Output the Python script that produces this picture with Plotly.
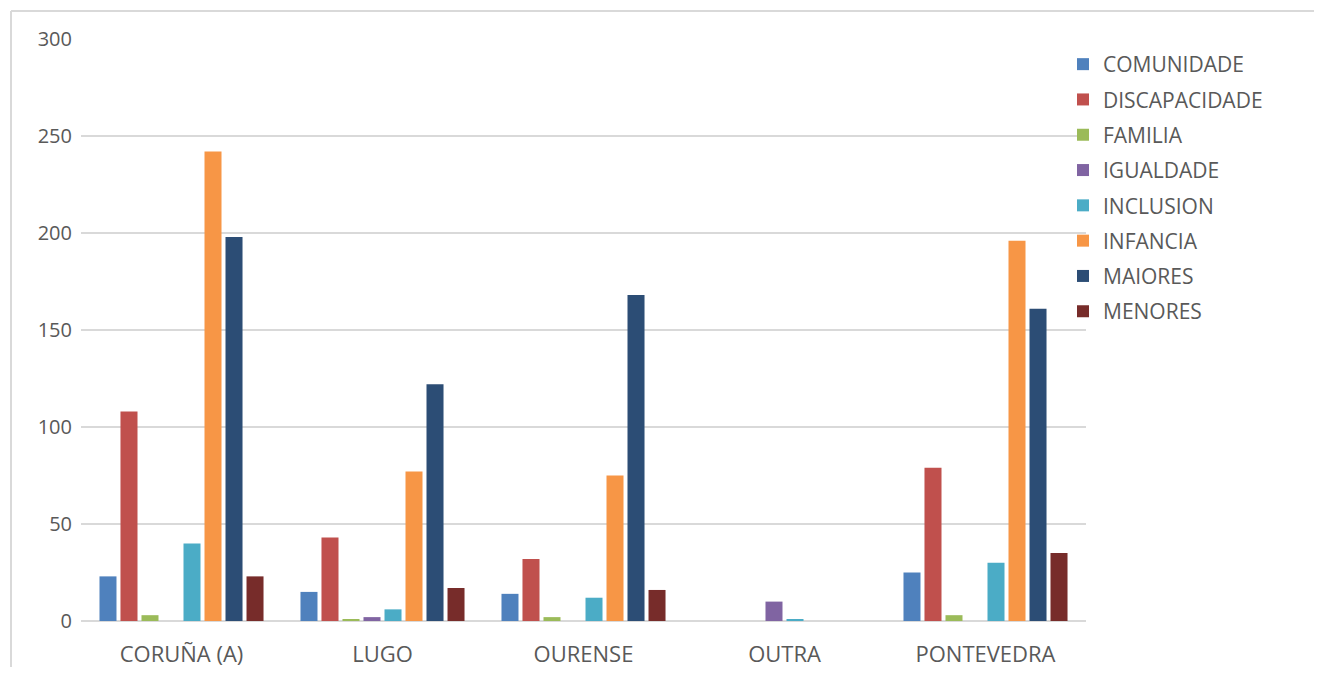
import plotly.graph_objects as go

categories = ["CORUÑA (A)", "LUGO", "OURENSE", "OUTRA", "PONTEVEDRA"]
series_names = ["COMUNIDADE", "DISCAPACIDADE", "FAMILIA", "IGUALDADE",
                "INCLUSION", "INFANCIA", "MAIORES", "MENORES"]
comunidade = [23, 15, 14, 0, 25]
discapacidade = [108, 43, 32, 0, 79]
familia = [3, 1, 2, 0, 3]
igualdade = [0, 2, 0, 10, 0]
inclusion = [40, 6, 12, 1, 30]
infancia = [242, 77, 75, 0, 196]
maiores = [198, 122, 168, 0, 161]
menores = [23, 17, 16, 0, 35]
series_values = [comunidade, discapacidade, familia, igualdade,
                 inclusion, infancia, maiores, menores]
colors = ["#4F81BD", "#C0504D", "#9BBB59", "#8064A2",
          "#4BACC6", "#F79646", "#2C4D75", "#772C2A"]

fig = go.Figure()
for i, (name, vals, col) in enumerate(zip(series_names, series_values, colors)):
    fig.add_trace(go.Bar(x=categories, y=vals, name=name, marker_color=col,
                         marker_line_width=0, legendgroup=f"g{i}"))

OFF = 8  # page body margin
W, H = 1322 - 2 * OFF, 675 - 2 * OFF
# absolute plot area targets
X0, X1, Y0, Y1 = 81, 1086, 39, 621
L, T = X0 - OFF, Y0 - OFF
R = W - (X1 - OFF)
B = H - (Y1 - OFF)
pw, ph = W - L - R, H - T - B

def px(x):
    return (x - X0) / pw

def py(y):
    return 1 - (y - Y0) / ph

FONT = "Open Sans, Lato, sans-serif"
frame = dict(color="#d9d9d9", width=2)
fig.update_layout(
    width=W, height=H,
    margin=dict(l=L, r=R, t=T, b=B, autoexpand=False),
    paper_bgcolor="white", plot_bgcolor="white",
    barmode="group", bargap=0.164, bargroupgap=0.19,
    font=dict(family=FONT, color="#595959", size=20),
    legend=dict(x=px(1063), xanchor="left", y=py(44), yanchor="top",
                font=dict(family=FONT, size=21, color="#595959"), tracegroupgap=5,
                bgcolor="rgba(0,0,0,0)", itemwidth=30),
    xaxis=dict(showgrid=False, showline=False, ticks="", ticklabelstandoff=18,
               automargin=False,
               tickfont=dict(family=FONT, size=22, color="#595959")),
    yaxis=dict(range=[0, 300], dtick=50, showgrid=True, gridcolor="#d9d9d9",
               gridwidth=1.5, zeroline=True, zerolinecolor="#d9d9d9", zerolinewidth=2,
               showline=False, ticks="", ticklabelstandoff=8, automargin=False,
               tickfont=dict(family=FONT, size=20, color="#595959")),
    shapes=[
        dict(type="line", xref="paper", yref="paper",
             x0=px(11), x1=px(11), y0=py(11), y1=py(H + OFF),
             line=frame, layer="below"),
        dict(type="line", xref="paper", yref="paper",
             x0=px(11), x1=px(W + OFF), y0=py(11), y1=py(11),
             line=frame, layer="below"),
    ],
)

fig.write_html("out.html")
